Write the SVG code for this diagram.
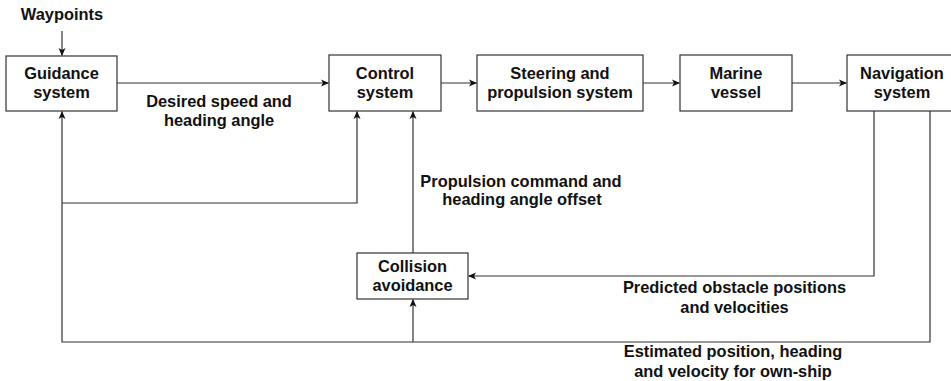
<svg xmlns="http://www.w3.org/2000/svg" width="951" height="381" viewBox="0 0 951 381">
  <style>
    .box { fill: #ffffff; stroke: #333333; stroke-width: 1.2; }
    .lbl { font-family: "Liberation Sans", Arial, Helvetica, sans-serif; font-size: 16.4px; font-weight: bold; fill: #111111; text-anchor: middle; }
    .wire { fill: none; stroke: #333333; stroke-width: 1.2; }
    .arr { marker-end: url(#head); }
  </style>
  <defs>
    <marker id="head" viewBox="0 0 8 8" refX="7.5" refY="4" markerWidth="8" markerHeight="8" markerUnits="userSpaceOnUse" orient="auto">
      <path d="M0,0.5 L8,4 L0,7.5 L2,4 z" fill="#111111"/>
    </marker>
  </defs>

  <rect width="951" height="381" fill="#ffffff"/>

  <!-- signal lines -->
  <g id="connectors">
    <path class="wire arr" d="M62,31 V55.5"/>
    <path class="wire arr" d="M117,83 H328.5"/>
    <path class="wire arr" d="M441,83 H476.5"/>
    <path class="wire arr" d="M643,83 H679.5"/>
    <path class="wire arr" d="M792,83 H846.5"/>
    <!-- estimated state feedback -->
    <path class="wire arr" d="M930,111 V342 H62 V111.5"/>
    <path class="wire arr" d="M62,203 H357 V111.5"/>
    <path class="wire arr" d="M413,342 V299.5"/>
    <!-- obstacle predictions -->
    <path class="wire arr" d="M874,111 V276 H468.5"/>
    <!-- avoidance command -->
    <path class="wire arr" d="M413,253 V111.5"/>
  </g>

  <g id="waypoints">
    <text class="lbl" x="62" y="20">Waypoints</text>
  </g>

  <g id="guidance">
    <rect class="box" x="6" y="56" width="111" height="55"/>
    <text class="lbl" x="61.5" y="79">Guidance</text>
    <text class="lbl" x="61.5" y="98">system</text>
  </g>

  <g id="control">
    <rect class="box" x="329" y="55" width="112" height="56"/>
    <text class="lbl" x="385" y="79">Control</text>
    <text class="lbl" x="385" y="98">system</text>
  </g>

  <g id="steering">
    <rect class="box" x="477" y="55" width="166" height="56"/>
    <text class="lbl" x="560" y="79">Steering and</text>
    <text class="lbl" x="560" y="98">propulsion system</text>
  </g>

  <g id="vessel">
    <rect class="box" x="680" y="55" width="112" height="56"/>
    <text class="lbl" x="736" y="79">Marine</text>
    <text class="lbl" x="736" y="98">vessel</text>
  </g>

  <g id="navigation">
    <rect class="box" x="847" y="55" width="112" height="56"/>
    <text class="lbl" x="902" y="79">Navigation</text>
    <text class="lbl" x="902" y="98">system</text>
  </g>

  <g id="collision">
    <rect class="box" x="357" y="253" width="111" height="46"/>
    <text class="lbl" x="412.5" y="272">Collision</text>
    <text class="lbl" x="412.5" y="291">avoidance</text>
  </g>

  <!-- connector labels -->
  <g id="labels">
    <text class="lbl" x="219" y="107">Desired speed and</text>
    <text class="lbl" x="219" y="126">heading angle</text>
    <text class="lbl" x="521" y="187">Propulsion command and</text>
    <text class="lbl" x="522" y="205">heading angle offset</text>
    <text class="lbl" x="734.5" y="293">Predicted obstacle positions</text>
    <text class="lbl" x="734.5" y="313">and velocities</text>
    <text class="lbl" x="733" y="357">Estimated position, heading</text>
    <text class="lbl" x="733" y="377">and velocity for own-ship</text>
  </g>
</svg>
